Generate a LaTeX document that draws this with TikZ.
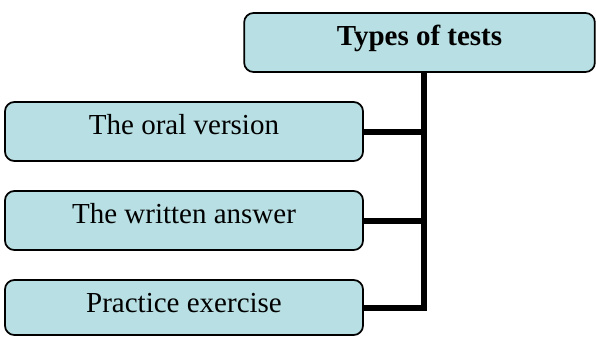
\documentclass[tikz,border=0pt]{standalone}
\usepackage{fontspec}
\setmainfont{Liberation Serif}
\usepackage{xcolor}
\definecolor{boxblue}{HTML}{B8DFE3}
\tikzset{
  testbox/.style={draw=black,fill=boxblue,line width=1.3pt,rounded corners=7pt,
    inner xsep=0pt,inner ysep=0pt,text height=24pt,text depth=20.25pt,
    font=\fontsize{21.75}{26}\selectfont},
  branch/.style={line width=4.5pt,black}
}

\begin{document}
\begin{tikzpicture}[x=0.75pt,y=-0.75pt]
      \useasboundingbox (0,0) rectangle (596,336);

      \node[testbox,minimum width=263pt] (types) at (419.5,42.5) {\textbf{Types of tests}};

      \node[testbox,minimum width=268.5pt] (oral) at (184,131.5) {The oral version};
      \node[testbox,minimum width=268.5pt] (written) at (184,220.5) {The written answer};
      \node[testbox,minimum width=268.5pt,text depth=17.25pt] (practice) at (184,307.5) {Practice exercise};

      \coordinate (spine) at (423.5,0);

      \draw[branch] (types.south -| spine)--(practice.east -| spine)--(practice.east);
      \draw[branch] (oral.east)--(oral.east -| spine);
      \draw[branch] (written.east)--(written.east -| spine);
\end{tikzpicture}
\end{document}
